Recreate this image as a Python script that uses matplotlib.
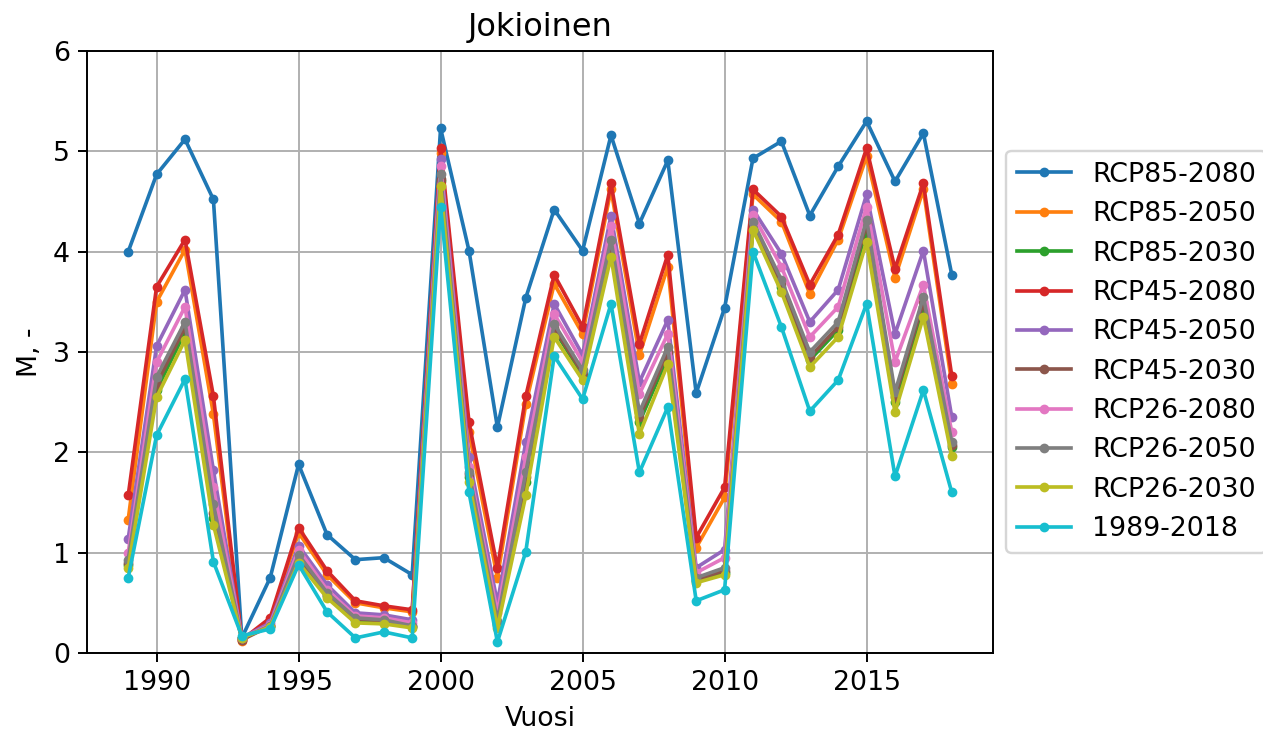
import matplotlib
matplotlib.use("Agg")
import matplotlib.pyplot as plt

years = list(range(1989, 2019))

rcp85_2080 = [4.00, 4.77, 5.12, 4.52, 0.15, 0.75, 1.88, 1.18, 0.93, 0.95, 0.78,
              5.23, 4.01, 2.25, 3.54, 4.42, 4.01, 5.16, 4.28, 4.91, 2.59, 3.44,
              4.93, 5.10, 4.36, 4.85, 5.30, 4.70, 5.18, 3.77]
rcp85_2050 = [1.33, 3.50, 4.02, 2.38, 0.12, 0.33, 1.20, 0.78, 0.50, 0.45, 0.41,
              4.98, 2.20, 0.75, 2.48, 3.68, 3.18, 4.62, 2.97, 3.85, 1.05, 1.55,
              4.57, 4.30, 3.58, 4.12, 4.95, 3.74, 4.62, 2.68]
rcp85_2030 = [0.88, 2.62, 3.20, 1.35, 0.15, 0.27, 0.93, 0.57, 0.33, 0.31, 0.26,
              4.70, 1.75, 0.28, 1.70, 3.22, 2.77, 4.03, 2.30, 2.95, 0.72, 0.80,
              4.25, 3.65, 2.92, 3.22, 4.22, 2.50, 3.45, 2.05]
rcp45_2080 = [1.57, 3.65, 4.12, 2.56, 0.13, 0.35, 1.25, 0.82, 0.52, 0.47, 0.43,
              5.03, 2.30, 0.85, 2.56, 3.77, 3.25, 4.68, 3.08, 3.97, 1.15, 1.65,
              4.62, 4.35, 3.67, 4.17, 5.03, 3.83, 4.68, 2.76]
rcp45_2050 = [1.14, 3.06, 3.62, 1.82, 0.15, 0.30, 1.07, 0.68, 0.40, 0.38, 0.33,
              4.92, 1.95, 0.50, 2.10, 3.48, 2.97, 4.36, 2.70, 3.32, 0.85, 1.03,
              4.42, 3.98, 3.30, 3.62, 4.57, 3.18, 4.01, 2.35]
rcp45_2030 = [0.90, 2.68, 3.25, 1.40, 0.13, 0.27, 0.95, 0.58, 0.34, 0.32, 0.27,
              4.72, 1.78, 0.30, 1.75, 3.24, 2.79, 4.08, 2.35, 3.00, 0.73, 0.82,
              4.27, 3.68, 2.95, 3.25, 4.28, 2.55, 3.50, 2.07]
rcp26_2080 = [1.00, 2.90, 3.45, 1.65, 0.15, 0.28, 1.03, 0.63, 0.37, 0.35, 0.30,
              4.85, 1.85, 0.40, 1.95, 3.38, 2.90, 4.26, 2.58, 3.18, 0.80, 0.95,
              4.37, 3.85, 3.15, 3.45, 4.45, 2.90, 3.67, 2.20]
rcp26_2050 = [0.93, 2.75, 3.30, 1.48, 0.15, 0.27, 0.98, 0.60, 0.35, 0.33, 0.27,
              4.77, 1.80, 0.32, 1.80, 3.28, 2.82, 4.12, 2.40, 3.05, 0.75, 0.85,
              4.30, 3.72, 3.00, 3.30, 4.32, 2.60, 3.55, 2.10]
rcp26_2030 = [0.85, 2.55, 3.12, 1.28, 0.15, 0.26, 0.90, 0.55, 0.30, 0.29, 0.25,
              4.65, 1.70, 0.25, 1.57, 3.15, 2.72, 3.95, 2.18, 2.88, 0.70, 0.78,
              4.22, 3.60, 2.85, 3.15, 4.10, 2.40, 3.35, 1.96]
baseline = [0.75, 2.17, 2.73, 0.91, 0.17, 0.24, 0.88, 0.41, 0.15, 0.21, 0.15,
            4.45, 1.60, 0.11, 1.01, 2.96, 2.53, 3.48, 1.80, 2.45, 0.52, 0.63,
            4.00, 3.25, 2.41, 2.72, 3.48, 1.76, 2.62, 1.60]

labels = ["RCP85-2080", "RCP85-2050", "RCP85-2030", "RCP45-2080", "RCP45-2050",
          "RCP45-2030", "RCP26-2080", "RCP26-2050", "RCP26-2030", "1989-2018"]
series = [rcp85_2080, rcp85_2050, rcp85_2030, rcp45_2080, rcp45_2050,
          rcp45_2030, rcp26_2080, rcp26_2050, rcp26_2030, baseline]

plt.rcParams["font.size"] = 11

fig = plt.figure(figsize=(1263 / 175, 737 / 175), dpi=175)
ax = fig.add_axes([0.0689, 0.114, 0.7173, 0.8168])

for lab, vals in zip(labels, series):
    ax.plot(years, vals, marker=".", label=lab)

ax.set_ylim(0, 6)
ax.set_title("Jokioinen")
ax.set_xlabel("Vuosi")
ax.set_ylabel("M, -")
ax.grid(True)
ax.legend(loc="center left", bbox_to_anchor=(1.0, 0.5))

fig.savefig("out.png", dpi=175)
